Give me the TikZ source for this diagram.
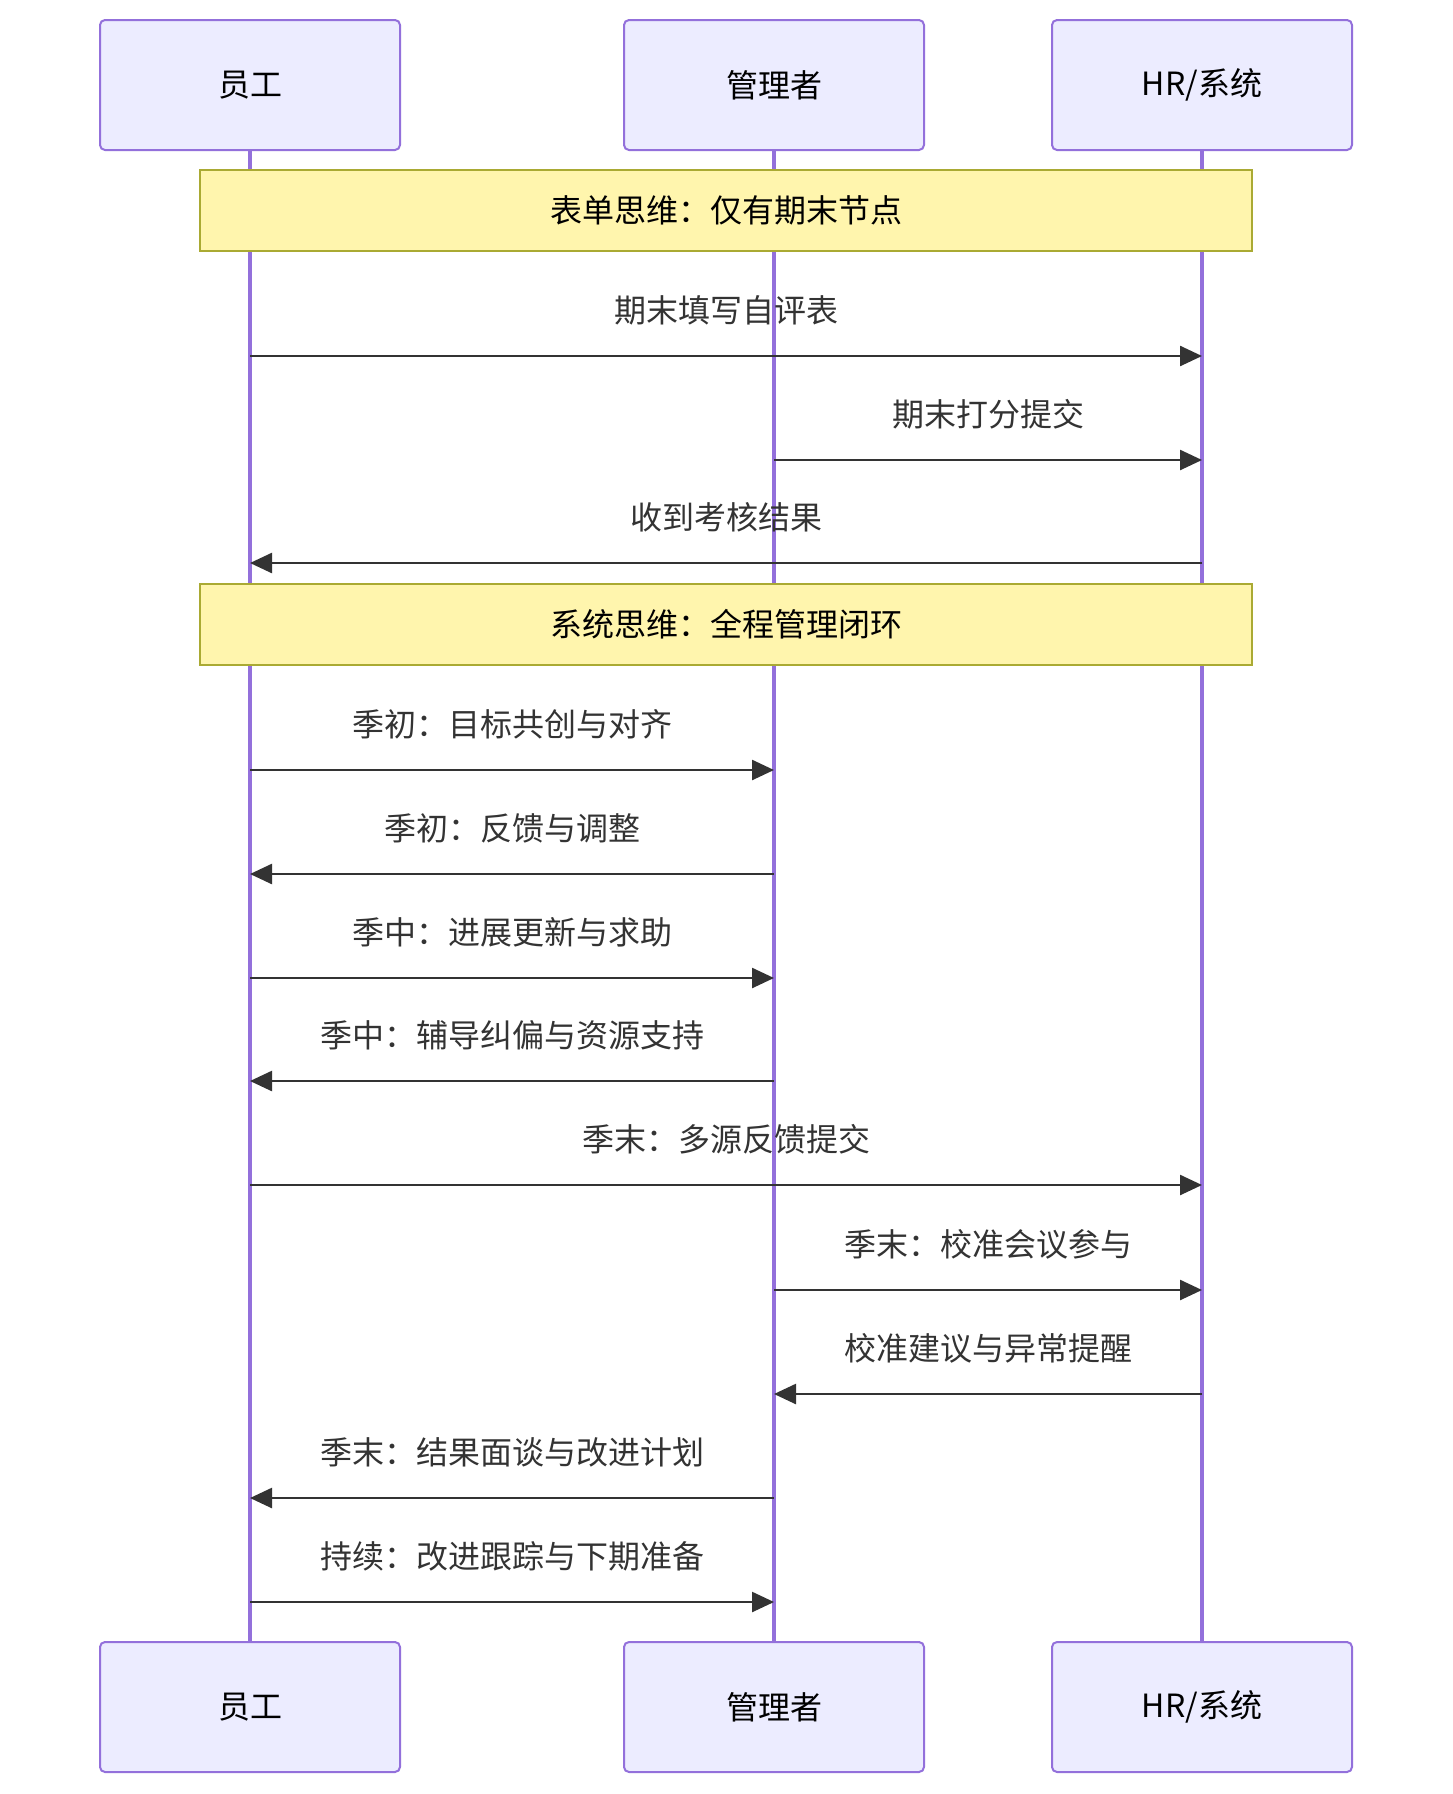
\documentclass[tikz,border=0pt]{standalone}
\usepackage{fontspec}
\setmainfont{Noto Sans CJK SC}
\usetikzlibrary{arrows.meta}

\definecolor{actorfill}{HTML}{ECECFF}
\definecolor{actorline}{HTML}{9370DB}
\definecolor{notefill}{HTML}{FFF5AD}
\definecolor{noteline}{HTML}{AAAA33}
\definecolor{msgcolor}{HTML}{333333}

\tikzset{
    bigfont/.style={font=\fontsize{32}{38}\selectfont},
    actor/.style={bigfont, draw=actorline, fill=actorfill, line width=2pt,
        rounded corners=5pt, minimum width=300pt, minimum height=130pt, inner sep=0pt},
    notebox/.style={bigfont, draw=noteline, fill=notefill, line width=2pt,
        minimum width=1052pt, minimum height=81pt, inner sep=0pt},
    lifeline/.style={draw=actorline, line width=3.5pt},
    msg/.style={draw=msgcolor, line width=2.5pt, -{Triangle[length=22pt,width=20pt]}},
    msglabel/.style={bigfont, text=msgcolor, inner sep=0pt}
}

\begin{document}
\begin{tikzpicture}[x=1pt, y=-1pt]

    \useasboundingbox (0,0) rectangle (1452,1794);

    % 1. Actor boxes, top and bottom
    \foreach \name/\xx/\lbl in {emp/250/员工, mgr/774/管理者, hr/1202/{HR/系统}} {
        \node[actor] (\name T) at (\xx,85) {\lbl};
        \node[actor] (\name B) at (\xx,1707) {\lbl};
    }

    % 2. Lifelines
    \foreach \name in {emp, mgr, hr} {
        \draw[lifeline] (\name T.south) -- (\name B.north);
    }

    % 3. Notes across all lifelines
    \node[notebox] (formNote) at (726,210.5) {表单思维：仅有期末节点};
    \node[notebox] (sysNote) at (726,624.5) {系统思维：全程管理闭环};

    % 4. Messages with their labels
    \foreach \src/\dst/\yy/\lbl [count=\i] in {
        emp/hr/356/期末填写自评表,
        mgr/hr/460/期末打分提交,
        hr/emp/563/收到考核结果,
        emp/mgr/770/季初：目标共创与对齐,
        mgr/emp/874/季初：反馈与调整,
        emp/mgr/978/季中：进展更新与求助,
        mgr/emp/1081/季中：辅导纠偏与资源支持,
        emp/hr/1185/季末：多源反馈提交,
        mgr/hr/1290/季末：校准会议参与,
        hr/mgr/1394/校准建议与异常提醒,
        mgr/emp/1498/季末：结果面谈与改进计划,
        emp/mgr/1602/持续：改进跟踪与下期准备} {
        \path (\src T.center |- 0,\yy) coordinate (s\i)
              (\dst T.center |- 0,\yy) coordinate (d\i);
        \draw[msg] (s\i) -- (d\i) node[msglabel, midway, yshift=46pt] {\lbl};
    }

\end{tikzpicture}
\end{document}
